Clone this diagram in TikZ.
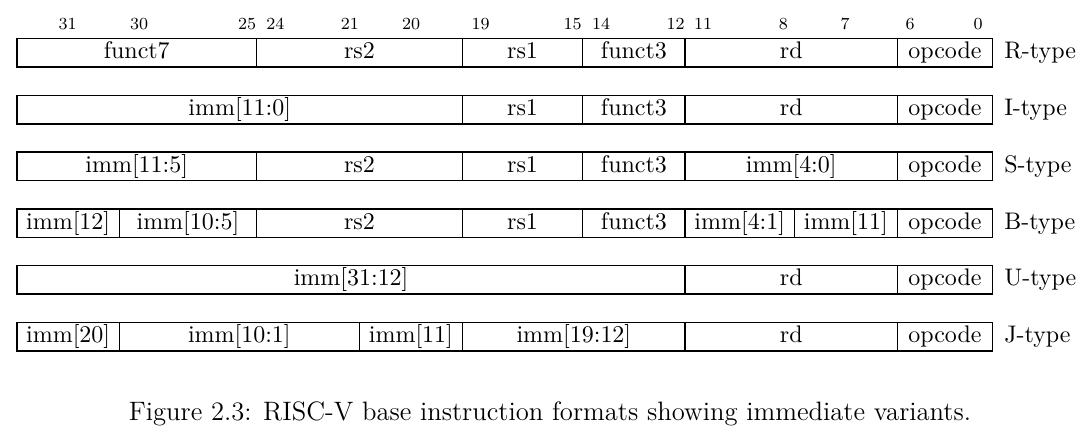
\documentclass[tikz,border=0pt]{standalone}
\usepackage{tikz}
\usetikzlibrary{
    positioning,
    calc
}
\tikzstyle{field} = [
    rectangle,
    draw=black,
    line width=0.7pt,
    inner sep=0pt,
    minimum height=12.95pt,
    text height=7.6pt,
    text depth=2.2pt,
    font=\fontsize{10.9}{13}\selectfont
]
\tikzstyle{bitpos} = [
    inner sep=0pt,
    font=\fontsize{7.7}{9}\selectfont
]
\tikzstyle{typename} = [
    inner sep=0pt,
    anchor=west,
    text height=7.6pt,
    text depth=2.2pt,
    font=\fontsize{10.9}{13}\selectfont
]

\begin{document}
\begin{tikzpicture}[x=0.4545pt, y=-0.4545pt]
        \useasboundingbox (0,0) rectangle (1087,440);

        % Bit positions
        \foreach \x/\b [count=\k] in {67.7/31, 139/30, 247/25, 275.4/24, 349.8/21, 411/20, 480.7/19, 572.6/15, 601/14, 675.6/12, 703/11, 783.3/8, 845/7, 910/6, 978/0}
            \node[bitpos] (bit\k) at (\x,24) {\b};

        % R-type
        \foreach \a/\b/\t [count=\k] in {17/256.5/funct7, 256.5/462.5/rs2, 462.5/582.6/rs1, 582.6/685.2/funct3, 685.2/897.3/rd, 897.3/992.5/opcode}
            \node[field, minimum width={(\b-\a)*0.4545pt}] (R\k) at ({(\a+\b)/2},52.75) {\t};
        \node[typename, right=4.8pt of R6] (Rt) {R-type};

        % I-type
        \foreach \a/\b/\t [count=\k] in {17/462.5/{imm[11:0]}, 462.5/582.6/rs1, 582.6/685.2/funct3, 685.2/897.3/rd, 897.3/992.5/opcode}
            \node[field, minimum width={(\b-\a)*0.4545pt}] (I\k) at ({(\a+\b)/2},109.55) {\t};
        \node[typename, right=4.8pt of I5] (It) {I-type};

        % S-type
        \foreach \a/\b/\t [count=\k] in {17/256.5/{imm[11:5]}, 256.5/462.5/rs2, 462.5/582.6/rs1, 582.6/685.2/funct3, 685.2/897.3/{imm[4:0]}, 897.3/992.5/opcode}
            \node[field, minimum width={(\b-\a)*0.4545pt}] (S\k) at ({(\a+\b)/2},166.35) {\t};
        \node[typename, right=4.8pt of S6] (St) {S-type};

        % B-type
        \foreach \a/\b/\t [count=\k] in {17/119.3/{imm[12]}, 119.3/256.5/{imm[10:5]}, 256.5/462.5/rs2, 462.5/582.6/rs1, 582.6/685.2/funct3, 685.2/794.3/{imm[4:1]}, 794.3/897.3/{imm[11]}, 897.3/992.5/opcode}
            \node[field, minimum width={(\b-\a)*0.4545pt}] (B\k) at ({(\a+\b)/2},223.15) {\t};
        \node[typename, right=4.8pt of B8] (Bt) {B-type};

        % U-type
        \foreach \a/\b/\t [count=\k] in {17/685.2/{imm[31:12]}, 685.2/897.3/rd, 897.3/992.5/opcode}
            \node[field, minimum width={(\b-\a)*0.4545pt}] (U\k) at ({(\a+\b)/2},279.95) {\t};
        \node[typename, right=4.8pt of U3] (Ut) {U-type};

        % J-type
        \foreach \a/\b/\t [count=\k] in {17/119.3/{imm[20]}, 119.3/359.3/{imm[10:1]}, 359.3/462.5/{imm[11]}, 462.5/685.2/{imm[19:12]}, 685.2/897.3/rd, 897.3/992.5/opcode}
            \node[field, minimum width={(\b-\a)*0.4545pt}] (J\k) at ({(\a+\b)/2},336.75) {\t};
        \node[typename, right=4.8pt of J6] (Jt) {J-type};

        % Caption
        \node[font=\fontsize{12.1}{14.5}\selectfont] (cap) at (550,414) {Figure 2.3: RISC-V base instruction formats showing immediate variants.};
    \end{tikzpicture}
\end{document}
